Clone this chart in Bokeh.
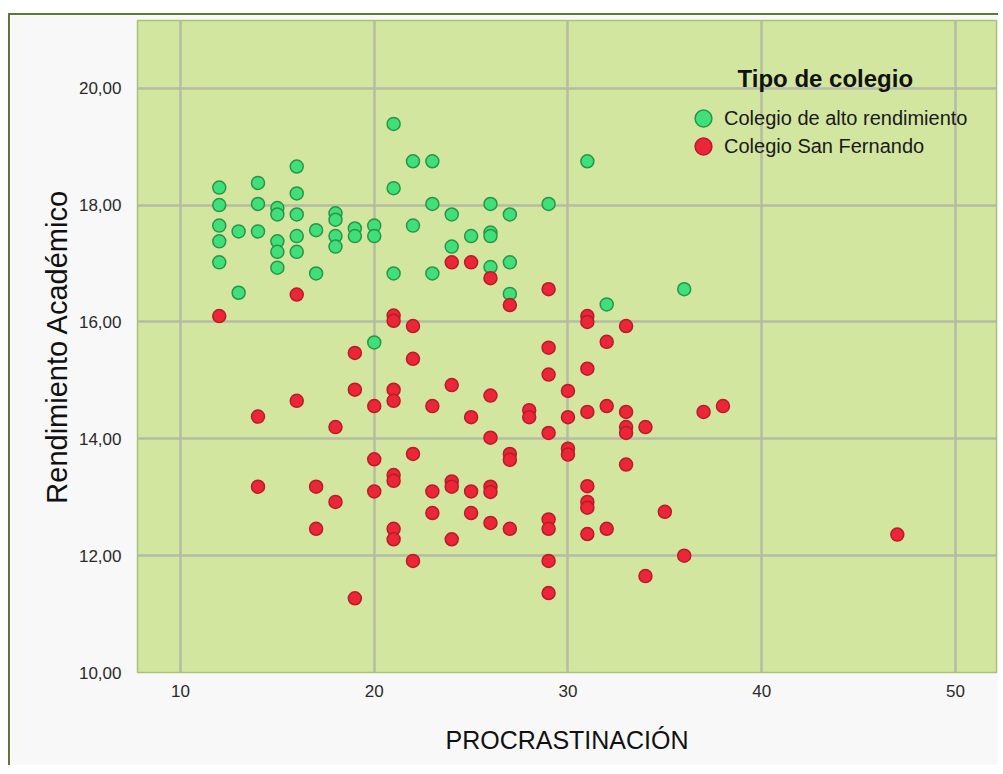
from bokeh.plotting import figure
from bokeh.models import Range1d, FixedTicker, Legend, LegendItem, Label, Spacer
from bokeh.layouts import column, row
from bokeh.embed import file_html
from bokeh.resources import INLINE

# ---- data ----
group_labels = ["Colegio de alto rendimiento", "Colegio San Fernando"]
legend_title = "Tipo de colegio"
x_title = "PROCRASTINACIÓN"
y_title = "Rendimiento Académico"

green_x = [12, 12, 12, 12, 12, 13, 13, 14, 14, 14, 15, 15, 15, 15, 15,
           16, 16, 16, 16, 16, 17, 17, 18, 18, 18, 18, 19, 19, 20, 20, 20,
           21, 21, 21, 22, 22, 23, 23, 23, 24, 24, 25, 26, 26, 26, 26,
           27, 27, 27, 29, 31, 32, 36]
green_y = [18.30, 18.00, 17.65, 17.38, 17.02, 17.55, 16.50, 18.38, 18.02, 17.55,
           17.95, 17.84, 17.38, 17.20, 16.93, 18.66, 18.20, 17.84, 17.47, 17.20,
           17.57, 16.83, 17.86, 17.75, 17.47, 17.29, 17.60, 17.47, 17.65, 17.47,
           15.65, 19.39, 18.29, 16.83, 18.75, 17.65, 18.75, 18.02, 16.83, 17.84,
           17.29, 17.47, 18.02, 17.53, 17.47, 16.94, 17.84, 17.02, 16.48, 18.02,
           18.75, 16.30, 16.56]

red_x = [12,
         14, 14,
         16, 16,
         17, 17,
         18, 18,
         19, 19, 19,
         20, 20, 20,
         21, 21, 21, 21, 21, 21, 21, 21,
         22, 22, 22, 22,
         23, 23, 23,
         24, 24, 24, 24, 24,
         25, 25, 25, 25,
         26, 26, 26, 26, 26, 26,
         27, 27, 27, 27,
         28, 28,
         29, 29, 29, 29, 29, 29, 29, 29,
         30, 30, 30, 30,
         31, 31, 31, 31, 31, 31, 31, 31,
         32, 32, 32,
         33, 33, 33, 33, 33,
         34, 34,
         35, 36, 37, 38, 47]
red_y = [16.10,
         14.38, 13.18,
         16.47, 14.65,
         13.18, 12.46,
         14.20, 12.92,
         15.47, 14.84, 11.27,
         14.56, 13.65, 13.10,
         16.11, 16.02, 14.84, 14.65, 13.38, 13.28, 12.46, 12.28,
         15.93, 15.37, 13.74, 11.91,
         14.56, 13.10, 12.73,
         17.02, 14.92, 13.27, 13.18, 12.28,
         17.02, 14.37, 13.10, 12.73,
         16.75, 14.74, 14.02, 13.18, 13.09, 12.56,
         16.29, 13.74, 13.64, 12.46,
         14.49, 14.37,
         16.56, 15.56, 15.10, 14.10, 12.62, 12.46, 11.91, 11.36,
         14.82, 14.37, 13.83, 13.73,
         16.10, 16.00, 15.20, 14.46, 13.19, 12.92, 12.82, 12.37,
         15.66, 14.56, 12.46,
         15.93, 14.46, 14.20, 14.10, 13.56,
         14.20, 11.65,
         12.75, 12.00, 14.46, 14.56, 12.36]

x_tick_values = [10, 20, 30, 40, 50]
x_tick_labels = ["10", "20", "30", "40", "50"]
y_tick_values = [10, 12, 14, 16, 18, 20]
y_tick_labels = ["10,00", "12,00", "14,00", "16,00", "18,00", "20,00"]

FONT = "Liberation Sans"

p = figure(width=990, height=752, output_backend="svg", toolbar_location=None,
           x_range=Range1d(7.78, 52.12), y_range=Range1d(10, 21.16),
           min_border_left=127, min_border_right=4, min_border_top=5,
           min_border_bottom=95)
p.styles = {"border-top": "2px solid #5b7b34", "border-left": "2px solid #5b7b34"}

p.background_fill_color = "#d3e6a0"
p.border_fill_color = "#f8f8f8"
p.outline_line_color = "#a9c27a"
p.outline_line_width = 1.5

for g in (p.xgrid, p.ygrid):
    g.grid_line_color = "#b5bba5"
    g.grid_line_width = 2.5

p.xaxis.ticker = FixedTicker(ticks=x_tick_values)
p.yaxis.ticker = FixedTicker(ticks=y_tick_values)
p.xaxis.major_label_overrides = dict(zip(x_tick_values, x_tick_labels))
p.yaxis.major_label_overrides = dict(zip(y_tick_values, y_tick_labels))

for ax in (p.xaxis, p.yaxis):
    ax.axis_line_color = None
    ax.major_tick_line_color = None
    ax.minor_tick_line_color = None
    ax.major_label_text_font = FONT
    ax.major_label_text_font_size = "17px"
    ax.major_label_text_color = "#2a2a2a"
    ax.axis_label_text_font = FONT
    ax.axis_label_text_font_style = "normal"
    ax.axis_label_text_color = "#111111"

p.xaxis.axis_label = x_title
p.xaxis.axis_label_text_font_size = "25px"
p.xaxis.major_label_standoff = 6
p.xaxis.axis_label_standoff = 26

p.yaxis.axis_label = y_title
p.yaxis.axis_label_text_font_size = "29px"
p.yaxis.major_label_standoff = 10
p.yaxis.axis_label_standoff = 3

rg = p.scatter(green_x, green_y, size=13, marker="circle",
               fill_color="#3fe07a", line_color="#2a9447", line_width=1.5)
rr = p.scatter(red_x, red_y, size=13, marker="circle",
               fill_color="#ec2537", line_color="#b81c2a", line_width=1.5)

legend_style = dict(glyph_width=42, glyph_height=46, spacing=0, label_standoff=0,
                    padding=0, margin=0, border_line_color=None,
                    background_fill_alpha=0, label_text_font=FONT,
                    label_text_font_size="20px", label_text_color="#1a1a1a")
legend_green = Legend(items=[LegendItem(label=group_labels[0], renderers=[rg])],
                      location=(545, 531), **legend_style)
legend_red = Legend(items=[LegendItem(label=group_labels[1], renderers=[rr])],
                    location=(545, 503), **legend_style)
p.add_layout(legend_green)
p.add_layout(legend_red)

title = Label(x=600, y=594, x_units="screen", y_units="screen", text=legend_title,
              text_font=FONT, text_font_size="24px", text_font_style="bold",
              text_baseline="middle", text_color="#111111")
p.add_layout(title)

layout = column(Spacer(height=13), row(Spacer(width=8), p))
open("out.html", "w").write(file_html(layout, INLINE))
